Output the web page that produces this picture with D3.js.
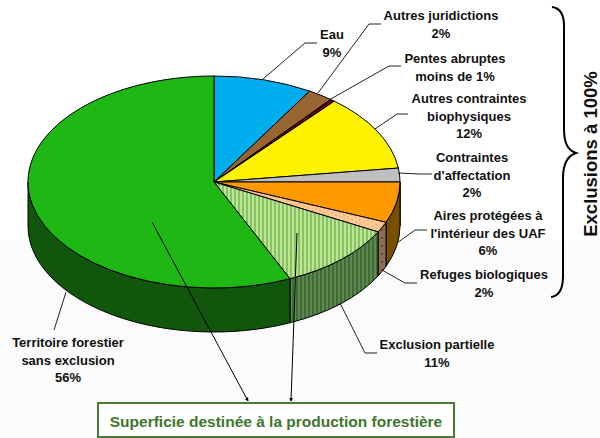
<!DOCTYPE html>
<html>
<head>
<meta charset="utf-8">
<script src="https://cdn.jsdelivr.net/npm/d3@7"></script>
<style>
  html, body { margin: 0; padding: 0; background: #fff; }
  svg { display: block; }
  text { font-family: "Liberation Sans", Arial, sans-serif; font-weight: bold; fill: #111; }
</style>
</head>
<body>
<script>
const WIDTH = 600, HEIGHT = 438;

const sliceNames = ["Eau", "Autres juridictions", "Pentes abruptes", "Autres contraintes biophysiques",
  "Contraintes d'affectation", "Aires protégées à l'intérieur des UAF", "Refuges biologiques",
  "Exclusion partielle", "Territoire forestier sans exclusion"];
const sliceValues = [8.6, 2.2, 0.4, 11.7, 2.1, 6.2, 1.6, 10.5, 56.7];
const topColors = ["#00aeef", "#996633", "#660000", "#fff200", "#c0c0c0", "#ff9900", "url(#dots)", "url(#stripes)", "#1fb714"];
const sideColors = ["#0070a0", "#66421f", "#400000", "#a09800", "#808080", "#7a4f00", "url(#dotsDark)", "url(#stripesDark)", "#10570c"];

const labelLines = [
  ["Eau", "9%"],
  ["Autres juridictions", "2%"],
  ["Pentes abruptes", "moins de 1%"],
  ["Autres contraintes", "biophysiques", "12%"],
  ["Contraintes", "d'affectation", "2%"],
  ["Aires protégées à", "l'intérieur des UAF", "6%"],
  ["Refuges biologiques", "2%"],
  ["Exclusion partielle", "11%"],
  ["Territoire forestier", "sans exclusion", "56%"]
];
const labelX = [332, 441, 455, 469, 472, 488, 484, 437, 68];
const labelY = [39, 20, 63, 103, 162, 220, 279, 349, 347];

const leaders = [
  [[263, 79], [305, 43], [317, 43]],
  [[318, 93], [369, 24], [381, 24]],
  [[329, 100], [389, 66], [401, 66]],
  [[375, 129], [397, 114], [408, 114]],
  [[398, 173], [420, 174], [432, 174]],
  [[397, 243], [415, 230], [427, 230]],
  [[382, 270], [405, 283], [417, 283]],
  [[340, 303], [365, 353], [377, 353]],
  [[66, 292], [54, 330]]
];

const svg = d3.select("body").append("svg")
  .attr("width", WIDTH)
  .attr("height", HEIGHT);

const defs = svg.append("defs");

function stripes(id, light, dark) {
  const p = defs.append("pattern").attr("id", id)
    .attr("patternUnits", "userSpaceOnUse").attr("width", 4).attr("height", 4);
  p.append("rect").attr("width", 4).attr("height", 4).attr("fill", light);
  p.append("rect").attr("width", 2).attr("height", 4).attr("fill", dark);
}
function dots(id, light, dark) {
  const p = defs.append("pattern").attr("id", id)
    .attr("patternUnits", "userSpaceOnUse").attr("width", 8).attr("height", 8);
  p.append("rect").attr("width", 8).attr("height", 8).attr("fill", light);
  p.append("rect").attr("x", 1).attr("y", 1).attr("width", 2).attr("height", 2).attr("fill", dark);
  p.append("rect").attr("x", 5).attr("y", 5).attr("width", 2).attr("height", 2).attr("fill", dark);
}
stripes("stripes", "#bfe398", "#86c45f");
stripes("stripesDark", "#5f8752", "#3f6b34");
dots("dots", "#ffcc99", "#f7a04a");
dots("dotsDark", "#8a6f55", "#6b4a2c");

// background goes slightly grey below the fold
svg.append("rect").attr("width", WIDTH).attr("height", HEIGHT).attr("fill", "#fff");
svg.append("rect").attr("y", 241).attr("width", WIDTH).attr("height", HEIGHT - 241).attr("fill", "#fbfbfb");

const CX = 214, CY = 182, RX = 186, RY = 106, DEPTH = 44;

const arcs = d3.pie().sort(null)(sliceValues);
const rScale = RY / RX;
const px = a => CX + RX * Math.sin(a);
const py = a => CY - RY * Math.cos(a);

// visible walls only, between 3 o'clock and 9 o'clock
function wallPath(d) {
  const a0 = Math.max(d.startAngle, Math.PI / 2);
  const a1 = Math.min(d.endAngle, 3 * Math.PI / 2);
  if (a1 <= a0) return null;
  return `M${px(a0)},${py(a0)}A${RX},${RY} 0 0 1 ${px(a1)},${py(a1)}` +
    `L${px(a1)},${py(a1) + DEPTH}A${RX},${RY} 0 0 0 ${px(a0)},${py(a0) + DEPTH}Z`;
}

svg.append("g").selectAll("path")
  .data(arcs.filter(wallPath))
  .join("path")
  .attr("d", wallPath)
  .attr("fill", d => sideColors[d.index])
  .attr("stroke", "#000")
  .attr("stroke-width", 1)
  .attr("stroke-linejoin", "round");

// top face: plain d3.arc squashed to an ellipse
const arc = d3.arc().innerRadius(0).outerRadius(RX);
svg.append("g")
  .attr("transform", `translate(${CX},${CY}) scale(1,${rScale})`)
  .selectAll("path")
  .data(arcs)
  .join("path")
  .attr("d", arc)
  .attr("fill", d => topColors[d.index])
  .attr("stroke", "#000")
  .attr("stroke-width", 1)
  .attr("vector-effect", "non-scaling-stroke")
  .attr("stroke-linejoin", "round");

// leader lines
const line = d3.line();
svg.append("g").selectAll("path")
  .data(leaders)
  .join("path")
  .attr("d", line)
  .attr("fill", "none")
  .attr("stroke", "#222")
  .attr("stroke-width", 1);

// labels
const labels = svg.append("g").selectAll("text")
  .data(labelLines)
  .join("text")
  .attr("text-anchor", "middle")
  .attr("font-size", 13);
labels.each(function (lines, i) {
  d3.select(this).selectAll("tspan")
    .data(lines)
    .join("tspan")
    .attr("x", labelX[i])
    .attr("y", (d, j) => labelY[i] + j * 17.5)
    .text(d => d);
});

// arrows to the box
defs.append("marker").attr("id", "arrow")
  .attr("viewBox", "0 0 6 6").attr("refX", 5).attr("refY", 3)
  .attr("markerWidth", 4).attr("markerHeight", 4).attr("orient", "auto")
  .append("path").attr("d", "M0,0L6,3L0,6Z").attr("fill", "#000");

const arrows = [
  [[152, 222], [248, 401]],
  [[297, 233], [291, 401]]
];
svg.append("g").selectAll("path")
  .data(arrows)
  .join("path")
  .attr("d", line)
  .attr("stroke", "#000")
  .attr("stroke-width", 1)
  .attr("fill", "none")
  .attr("marker-end", "url(#arrow)");

// box
svg.append("rect")
  .attr("x", 98).attr("y", 403).attr("width", 356).attr("height", 34)
  .attr("fill", "#fff").attr("stroke", "#4a7a34").attr("stroke-width", 2);
svg.append("text")
  .attr("x", 276).attr("y", 427)
  .attr("text-anchor", "middle")
  .attr("font-size", 15.5)
  .style("fill", "#41752e")
  .text("Superficie destinée à la production forestière");

// brace + rotated title
svg.append("path")
  .attr("d", "M552,7C560,8 564,14 564,26L564,128C564,142 567,150 576,153C567,156 563,164 563,178L563,276C563,290 559,296 551,297")
  .attr("fill", "none")
  .attr("stroke", "#000")
  .attr("stroke-width", 2);
svg.append("text")
  .attr("transform", "translate(597,154) rotate(-90)")
  .attr("text-anchor", "middle")
  .attr("font-size", 18.5)
  .text("Exclusions à 100%");
</script>
</body>
</html>
